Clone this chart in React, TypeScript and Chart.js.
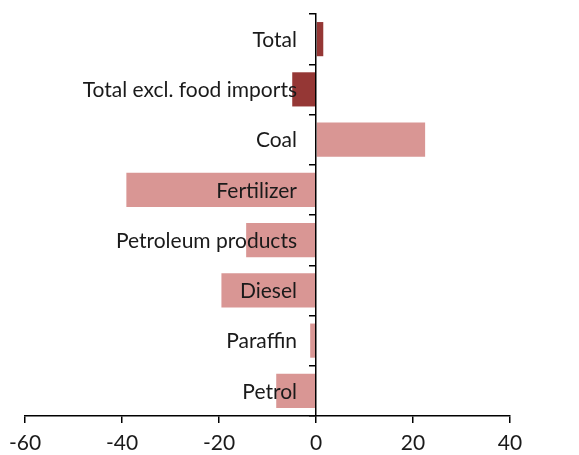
import React, { useEffect, useRef } from "react";
import { Chart, registerables } from "chart.js";

Chart.register(...registerables);

const categories = [
  "Total",
  "Total excl. food imports",
  "Coal",
  "Fertilizer",
  "Petroleum products",
  "Diesel",
  "Paraffin",
  "Petrol",
];
const values = [1.5, -4.9, 22.5, -39.1, -14.4, -19.5, -1.2, -8.2];
const barColors = [
  "#953735",
  "#953735",
  "#D99694",
  "#D99694",
  "#D99694",
  "#D99694",
  "#D99694",
  "#D99694",
];
const xTicks = [-60, -40, -20, 0, 20, 40];

const labelPlugin = {
  id: "catLabels",
  afterDatasetsDraw(chart: any) {
    const { ctx, scales } = chart;
    const x0 = scales.x.getPixelForValue(0) - 19;
    ctx.save();
    ctx.font = "21px Lato";
    ctx.fillStyle = "#1a1a1a";
    ctx.textAlign = "right";
    ctx.textBaseline = "middle";
    categories.forEach((c, i) => {
      ctx.fillText(c, x0, scales.y.getPixelForTick(i) + 1);
    });
    ctx.restore();
  },
};

export default function App() {
  const ref = useRef<HTMLCanvasElement | null>(null);
  useEffect(() => {
    if (!ref.current) return;
    const chart = new Chart(ref.current, {
      type: "bar",
      data: {
        labels: categories,
        datasets: [
          {
            data: values,
            backgroundColor: barColors,
            borderWidth: 0,
            barPercentage: 0.68,
            categoryPercentage: 1,
          },
        ],
      },
      plugins: [labelPlugin],
      options: {
        indexAxis: "y",
        animation: false,
        responsive: false,
        maintainAspectRatio: false,
        layout: { padding: { left: 25, right: 69, top: 14, bottom: 0 } },
        plugins: { legend: { display: false }, tooltip: { enabled: false } },
        scales: {
          x: {
            type: "linear",
            position: "bottom",
            min: -60,
            max: 40,
            afterBuildTicks: (s: any) => {
              s.ticks = xTicks.map((v) => ({ value: v }));
            },
            afterFit: (s: any) => {
              s.height = 39;
            },
            grid: {
              display: true,
              drawOnChartArea: false,
              drawTicks: true,
              tickLength: 7,
              color: "#000",
              lineWidth: 1.5,
            },
            border: { display: true, color: "#000", width: 1.5 },
            ticks: {
              color: "#1a1a1a",
              font: { family: "Lato", size: 21 },
              padding: 8,
              maxRotation: 0,
            },
          },
          y: {
            type: "category",
            position: { x: 0 } as any,
            offset: true,
            grid: {
              display: true,
              offset: true,
              drawOnChartArea: false,
              drawTicks: true,
              tickLength: 6,
              color: "#000",
              lineWidth: 1.5,
            },
            border: { display: true, color: "#000", width: 1.5, z: 2 },
            ticks: {
              display: false,
              autoSkip: false,
            },
          },
        },
      },
    });
    return () => chart.destroy();
  }, []);
  return (
    <div style={{ position: "fixed", left: 0, top: 0, width: 579, height: 455, background: "#fff" }}>
      <canvas ref={ref} width={579} height={455} style={{ width: 579, height: 455 }} />
    </div>
  );
}
